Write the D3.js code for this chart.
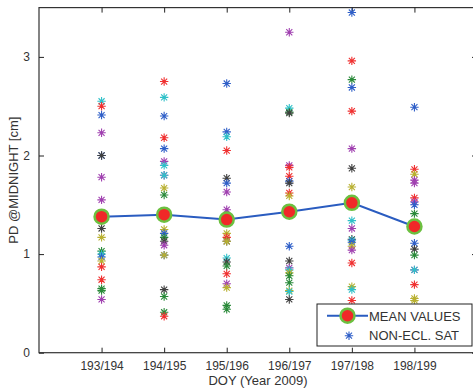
<!DOCTYPE html>
<html>
<head>
<meta charset="utf-8">
<script src="https://cdn.jsdelivr.net/npm/d3@7"></script>
<style>
  html, body { margin: 0; padding: 0; background: #fff; }
  svg text { font-family: "Liberation Sans", Arial, Helvetica, sans-serif; fill: #333; }
</style>
</head>
<body>
<svg id="chart" width="473" height="388"></svg>
<script>
// ---- Data ----
const categories = ["193/194", "194/195", "195/196", "196/197", "197/198", "198/199"];
const meanValues = [1.38, 1.40, 1.35, 1.43, 1.52, 1.28];
const yTicks = [0, 1, 2, 3];

// Non-eclipsing satellite values per day pair, with colour codes
// b=blue g=green r=red c=cyan m=magenta y=olive k=dark grey
const sat193 = [2.55, 2.50, 2.41, 2.23, 2.00, 2.00, 1.78, 1.55, 1.26, 1.17, 1.03, 1.00, 0.97, 0.93, 0.87, 0.74, 0.65, 0.63, 0.54];
const col193 = ["c", "r", "b", "m", "b", "k", "m", "m", "k", "y", "g", "c", "b", "y", "r", "r", "g", "g", "m"];
const sat194 = [2.75, 2.59, 2.40, 2.18, 2.07, 1.94, 1.90, 1.80, 1.80, 1.67, 1.60, 1.25, 1.21, 1.17, 1.13, 1.09, 0.99, 0.99, 0.64, 0.57, 0.41, 0.37];
const col194 = ["r", "c", "b", "r", "b", "m", "c", "m", "c", "y", "g", "y", "b", "g", "k", "m", "b", "y", "k", "g", "g", "r"];
const sat195 = [2.73, 2.24, 2.19, 2.05, 1.77, 1.72, 1.63, 1.45, 1.21, 1.17, 1.13, 1.13, 0.96, 0.92, 0.88, 0.80, 0.70, 0.66, 0.48, 0.44];
const col195 = ["b", "b", "c", "r", "k", "b", "m", "m", "y", "r", "k", "y", "c", "k", "g", "r", "m", "y", "g", "g"];
const sat196 = [3.25, 2.48, 2.44, 2.43, 1.90, 1.88, 1.79, 1.74, 1.72, 1.62, 1.59, 1.08, 0.93, 0.86, 0.84, 0.81, 0.78, 0.71, 0.63, 0.62, 0.54];
const col196 = ["m", "c", "g", "k", "m", "r", "r", "b", "k", "r", "y", "b", "k", "m", "c", "y", "g", "g", "y", "c", "k"];
const sat197 = [3.45, 2.96, 2.77, 2.69, 2.45, 2.07, 1.87, 1.68, 1.34, 1.26, 1.15, 1.14, 1.12, 1.08, 1.04, 0.91, 0.67, 0.64, 0.53];
const col197 = ["b", "r", "g", "b", "r", "m", "k", "y", "c", "m", "k", "c", "b", "y", "m", "r", "y", "c", "r"];
const sat198 = [2.49, 1.86, 1.81, 1.75, 1.72, 1.57, 1.53, 1.50, 1.41, 1.11, 1.05, 0.99, 0.84, 0.84, 0.69, 0.55, 0.53];
const col198 = ["b", "r", "y", "m", "m", "r", "m", "b", "g", "b", "k", "g", "m", "c", "r", "y", "y"];

const satValues = [sat193, sat194, sat195, sat196, sat197, sat198];
const satColors = [col193, col194, col195, col196, col197, col198];

const palette = { b: "#2f5fc8", g: "#2a8a3a", r: "#f03030", c: "#2fc0c8", m: "#a040b0", y: "#b8b030", k: "#404040" };

// ---- Layout ----
const svg = d3.select("#chart");
const pLeft = 39, pRight = 477, pTop = 7.6, pBottom = 352.7;

const x = d3.scaleLinear().domain([0, 7]).range([pLeft, pRight]);
const y = d3.scaleLinear().domain([0, 3.5]).range([pBottom, pTop]);

// Frame
svg.append("rect")
  .attr("x", pLeft).attr("y", pTop)
  .attr("width", pRight - pLeft).attr("height", pBottom - pTop)
  .attr("fill", "none").attr("stroke", "#333").attr("stroke-width", 1.2);

// Axes (inward ticks)
const catPos = categories.map((d, i) => i + 1);
const xAxisB = d3.axisBottom(x).tickValues(catPos).tickFormat((d) => categories[d - 1]).tickSizeInner(-5).tickSizeOuter(0).tickPadding(9);
const xAxisT = d3.axisTop(x).tickValues(catPos).tickFormat("").tickSizeInner(-5).tickSizeOuter(0);
const yAxisL = d3.axisLeft(y).tickValues(yTicks).tickFormat(d3.format("d")).tickSizeInner(-5).tickSizeOuter(0).tickPadding(9);
const yAxisR = d3.axisRight(y).tickValues(yTicks).tickFormat("").tickSizeInner(-5).tickSizeOuter(0);

function styleAxis(g) {
  g.select(".domain").remove();
  g.selectAll(".tick line").attr("stroke", "#222");
  g.selectAll(".tick text").style("font-size", "12px").attr("fill", "#333");
}
svg.append("g").attr("transform", `translate(0,${pBottom})`).call(xAxisB).call(styleAxis);
svg.append("g").attr("transform", `translate(0,${pTop})`).call(xAxisT).call(styleAxis);
svg.append("g").attr("transform", `translate(${pLeft},0)`).call(yAxisL).call(styleAxis);
svg.append("g").attr("transform", `translate(${pRight},0)`).call(yAxisR).call(styleAxis);

// Axis labels
svg.append("text")
  .attr("x", (pLeft + 473) / 2 + 2).attr("y", 385)
  .attr("text-anchor", "middle").style("font-size", "13px")
  .text("DOY (Year 2009)");
svg.append("text")
  .attr("transform", `translate(18,${(pTop + pBottom) / 2}) rotate(-90)`)
  .attr("text-anchor", "middle").style("font-size", "13px")
  .text("PD @MIDNIGHT [cm]");

// Asterisk path
function asterisk(cx, cy, s) {
  const d = s * 0.72;
  return `M${cx - s},${cy}L${cx + s},${cy}M${cx},${cy - s}L${cx},${cy + s}` +
         `M${cx - d},${cy - d}L${cx + d},${cy + d}M${cx - d},${cy + d}L${cx + d},${cy - d}`;
}

// Satellite points
const pts = [];
satValues.forEach((arr, i) => arr.forEach((v, j) => pts.push({ pos: i + 1, v: v, c: satColors[i][j] })));
svg.append("g").selectAll("path").data(pts).join("path")
  .attr("d", (d) => asterisk(x(d.pos), y(d.v), 4.2))
  .attr("stroke", (d) => palette[d.c]).attr("stroke-width", 1.1).attr("fill", "none");

// Mean line
const meanData = meanValues.map((v, i) => ({ pos: i + 1, v: v }));
svg.append("path").datum(meanData)
  .attr("d", d3.line().x((d) => x(d.pos)).y((d) => y(d.v)))
  .attr("fill", "none").attr("stroke", "#2a5cc0").attr("stroke-width", 2);
svg.append("g").selectAll("circle").data(meanData).join("circle")
  .attr("cx", (d) => x(d.pos)).attr("cy", (d) => y(d.v)).attr("r", 7)
  .attr("fill", "#f02828").attr("stroke", "#6cc040").attr("stroke-width", 2.5);

// Legend
const lg = svg.append("g");
lg.append("rect").attr("x", 317).attr("y", 304).attr("width", 155).attr("height", 42)
  .attr("fill", "#fff").attr("stroke", "#222").attr("stroke-width", 1);
lg.append("line").attr("x1", 327).attr("x2", 368).attr("y1", 315.7).attr("y2", 315.7)
  .attr("stroke", "#2a5cc0").attr("stroke-width", 2);
lg.append("circle").attr("cx", 347.5).attr("cy", 315.7).attr("r", 7)
  .attr("fill", "#f02828").attr("stroke", "#6cc040").attr("stroke-width", 2.5);
lg.append("path").attr("d", asterisk(349, 335.7, 4.2))
  .attr("stroke", palette.b).attr("stroke-width", 1.1).attr("fill", "none");
lg.append("text").attr("x", 369).attr("y", 320.5).style("font-size", "13px").text("MEAN VALUES");
lg.append("text").attr("x", 369).attr("y", 340).style("font-size", "13px").text("NON-ECL. SAT");
</script>
</body>
</html>
